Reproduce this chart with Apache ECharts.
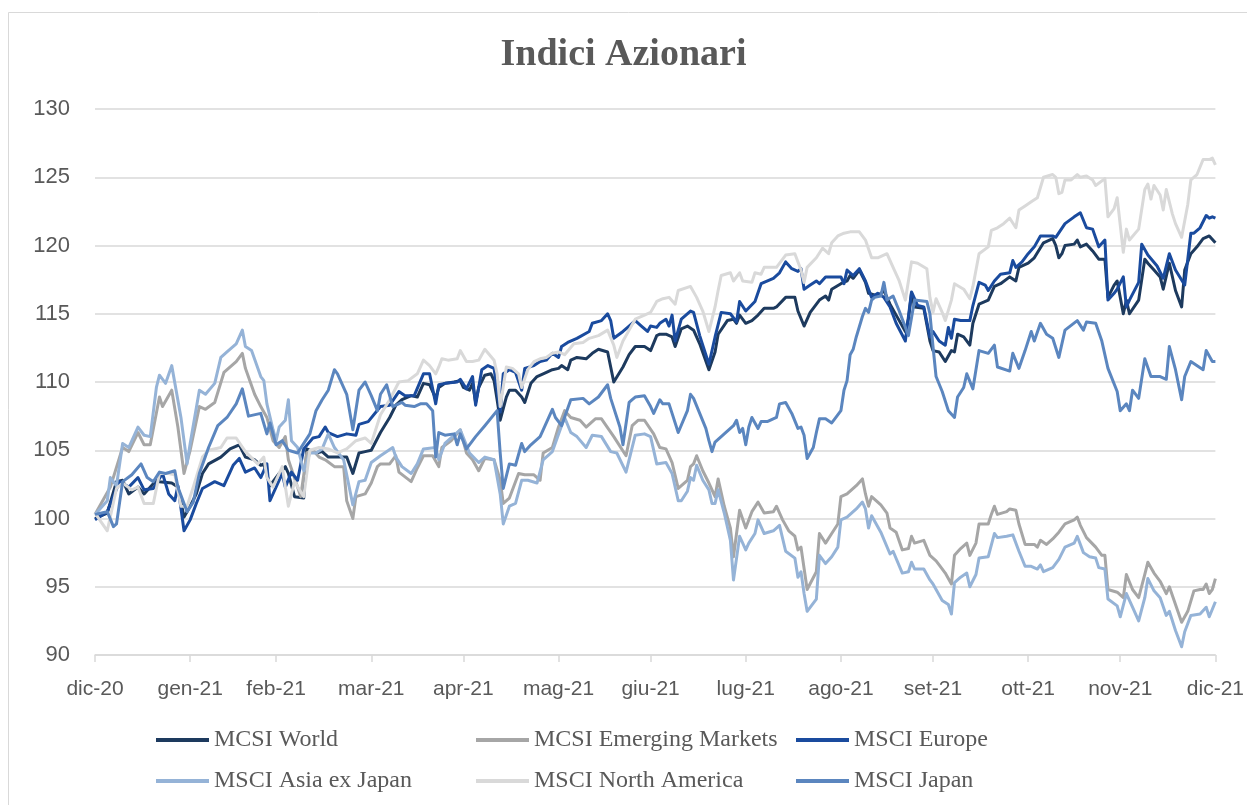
<!DOCTYPE html>
<html><head><meta charset="utf-8">
<script src="https://cdn.jsdelivr.net/npm/echarts@6/dist/echarts.min.js"></script>
<style>html,body{margin:0;padding:0;background:#fff}#c{width:1247px;height:805px}</style>
</head><body><div id="c"></div>
<script>
// Tick labels at month-end dates (days since 2020-12-31)
const monthLabels = ['dic-20','gen-21','feb-21','mar-21','apr-21','mag-21','giu-21','lug-21','ago-21','set-21','ott-21','nov-21','dic-21'];
const monthEndDays = [0,31,59,90,120,151,181,212,243,273,304,334,365];
const yTicks = [90,95,100,105,110,115,120,125,130];

// Series: [days since 2020-12-31, index value]
const world = [[0,100.0],[4,100.4],[7,102.7],[9,102.8],[11,101.8],[14,102.3],[16,101.8],[20,102.8],[21,102.7],[25,102.6],[27,102.3],[29,100.1],[31,100.9],[33,101.8],[35,103.3],[37,104.0],[41,104.5],[44,105.1],[47,105.4],[49,104.5],[52,104.3],[54,103.9],[55,104.0],[57,102.4],[60,103.3],[62,103.8],[63,103.3],[65,101.6],[68,101.5],[69,105.1],[72,104.8],[74,104.9],[76,104.5],[79,104.5],[82,104.5],[84,103.3],[86,104.8],[88,104.9],[90,105.0],[93,106.3],[96,107.4],[98,108.3],[100,108.7],[103,109.0],[105,108.9],[107,109.9],[109,109.8],[111,108.8],[112,109.6],[114,109.9],[117,110.0],[119,110.1],[120,109.6],[122,109.4],[123,109.9],[124,108.5],[125,109.6],[127,110.5],[129,110.6],[130,110.1],[131,108.7],[132,107.2],[134,108.9],[135,109.4],[137,109.4],[139,108.9],[140,108.5],[142,109.9],[144,110.4],[146,110.6],[149,110.9],[151,111.0],[152,111.2],[154,110.9],[155,111.6],[157,111.8],[160,111.7],[162,112.1],[164,112.4],[167,112.2],[168,111.1],[169,110.0],[172,111.1],[174,112.0],[176,112.6],[179,112.6],[181,112.3],[183,113.4],[184,113.5],[186,113.5],[188,113.3],[189,112.6],[191,113.9],[193,114.1],[195,113.8],[197,112.8],[200,110.9],[202,112.2],[203,113.5],[206,114.5],[208,114.6],[209,114.3],[210,114.9],[212,114.3],[214,114.5],[216,114.9],[218,115.4],[221,115.4],[222,115.5],[225,116.2],[228,116.2],[229,115.2],[231,114.1],[233,115.1],[236,116.0],[238,116.3],[239,116.0],[240,116.8],[243,117.2],[245,117.4],[246,117.8],[247,117.6],[249,118.2],[251,117.3],[252,116.5],[255,116.3],[257,116.7],[259,115.7],[261,114.9],[264,113.7],[265,114.6],[266,116.5],[267,115.5],[270,115.4],[272,113.0],[273,112.3],[275,112.2],[277,111.5],[279,112.3],[280,112.2],[281,113.5],[283,113.3],[285,112.7],[286,114.3],[288,115.7],[291,116.0],[293,117.0],[295,117.2],[298,117.7],[300,117.4],[301,118.4],[304,118.7],[306,119.1],[309,120.2],[312,120.5],[313,120.0],[314,119.1],[315,119.4],[316,120.0],[319,120.1],[320,120.4],[321,119.9],[323,120.1],[325,119.6],[327,119.0],[329,119.0],[330,116.2],[332,117.1],[333,117.4],[335,115.0],[336,116.0],[337,115.0],[340,116.0],[342,119.0],[343,118.7],[345,118.2],[347,117.7],[348,116.8],[350,118.7],[352,116.7],[354,115.5],[355,118.2],[357,119.4],[359,119.9],[361,120.5],[363,120.7],[365,120.2]];

const emerging = [[0,100.3],[5,102.3],[9,105.2],[11,104.9],[14,106.3],[16,105.4],[18,105.4],[21,108.9],[22,108.2],[25,109.4],[27,106.7],[29,103.3],[31,105.0],[34,108.2],[36,108.0],[39,108.5],[42,110.7],[46,111.5],[48,112.1],[49,111.0],[52,109.1],[54,108.2],[56,107.4],[58,105.7],[60,105.2],[62,106.0],[63,104.3],[66,102.3],[67,101.6],[69,104.8],[71,105.0],[73,104.5],[75,104.3],[78,103.8],[81,103.8],[82,101.3],[84,100.0],[85,101.6],[88,101.8],[90,102.6],[92,103.8],[93,104.0],[96,104.0],[98,104.6],[99,103.4],[103,102.7],[105,103.7],[107,104.6],[110,104.6],[112,103.8],[113,105.2],[116,105.7],[119,106.5],[121,104.8],[123,104.3],[125,103.5],[127,104.4],[130,104.3],[132,102.8],[133,101.1],[135,101.5],[138,103.3],[140,103.2],[143,103.2],[145,102.8],[146,104.8],[149,105.2],[151,106.7],[153,107.9],[155,107.4],[158,107.2],[160,106.7],[163,107.3],[165,107.3],[169,106.0],[173,104.6],[175,106.8],[177,107.2],[179,107.2],[182,106.2],[184,105.2],[186,105.1],[188,104.1],[190,102.2],[193,102.8],[194,103.8],[195,104.0],[196,104.6],[198,103.5],[200,102.6],[202,101.6],[203,102.9],[205,100.9],[207,99.3],[208,97.2],[210,100.6],[212,99.3],[214,100.5],[216,101.2],[218,100.4],[221,100.5],[222,100.9],[224,99.9],[226,99.1],[228,98.7],[229,97.7],[230,97.9],[232,94.8],[235,96.1],[236,98.9],[238,98.2],[240,98.9],[242,99.6],[243,101.6],[245,101.8],[248,102.4],[250,102.9],[251,101.8],[252,100.9],[253,101.6],[256,101.0],[258,100.4],[259,99.3],[261,99.0],[263,97.7],[265,97.8],[266,98.7],[267,98.2],[270,98.4],[272,97.3],[274,96.9],[275,96.6],[277,96.0],[279,95.2],[280,97.3],[282,97.8],[284,98.2],[285,97.3],[287,98.2],[288,99.6],[291,99.6],[292,100.3],[293,100.9],[294,100.3],[297,100.5],[298,100.7],[300,100.6],[301,99.6],[303,98.1],[306,98.1],[307,97.9],[308,98.4],[310,98.1],[312,98.5],[314,99.0],[316,99.6],[319,99.9],[320,100.1],[321,99.5],[323,98.6],[326,97.9],[328,97.3],[329,97.3],[330,94.8],[333,94.6],[335,94.2],[336,95.9],[338,94.8],[340,94.2],[342,95.9],[343,96.8],[345,96.0],[347,95.4],[349,94.5],[350,95.0],[352,93.7],[354,92.4],[356,93.2],[358,94.7],[360,94.8],[361,94.8],[362,95.2],[363,94.5],[364,94.8],[365,95.6]];

const europe = [[0,99.9],[4,100.5],[8,102.7],[11,102.3],[14,103.0],[16,102.1],[19,102.2],[22,103.3],[24,101.8],[26,101.3],[27,102.4],[29,99.1],[31,99.9],[33,101.1],[35,102.2],[39,102.7],[42,102.4],[45,103.9],[47,104.4],[49,103.4],[52,103.7],[54,103.0],[56,104.0],[57,101.3],[61,103.3],[62,102.3],[64,103.4],[66,102.8],[68,105.1],[71,105.9],[73,106.0],[75,106.7],[76,106.3],[79,106.0],[82,106.2],[85,106.1],[86,106.9],[89,107.1],[93,108.2],[96,108.3],[99,109.3],[101,109.0],[104,109.0],[107,110.6],[109,110.6],[111,108.4],[112,109.8],[114,109.9],[118,110.0],[119,110.2],[121,109.5],[123,110.4],[124,108.3],[126,110.9],[128,111.2],[130,111.0],[132,107.8],[133,110.6],[135,110.9],[137,110.7],[139,109.4],[140,111.0],[143,111.2],[145,111.5],[147,111.6],[149,112.1],[151,111.8],[152,112.6],[154,112.9],[157,113.2],[161,113.7],[162,114.3],[165,114.5],[167,115.0],[168,114.5],[169,113.2],[172,113.7],[174,114.1],[176,114.5],[178,114.1],[180,113.7],[181,114.1],[183,114.0],[184,114.3],[186,114.6],[187,114.1],[188,114.9],[189,113.0],[191,114.6],[194,115.2],[195,115.1],[197,113.4],[200,111.3],[202,113.3],[204,115.1],[207,115.0],[209,114.4],[210,115.9],[212,115.2],[215,115.9],[217,117.2],[221,117.6],[223,118.0],[225,118.8],[227,118.3],[229,118.1],[230,118.3],[231,116.8],[233,117.1],[235,117.4],[236,117.2],[238,117.7],[240,117.7],[243,117.7],[244,117.2],[245,118.2],[247,117.8],[249,118.3],[251,117.4],[253,116.2],[255,116.5],[257,116.2],[259,115.5],[261,114.3],[264,113.0],[266,116.6],[268,115.6],[270,115.5],[272,113.3],[273,113.7],[275,113.0],[277,112.7],[278,114.0],[279,113.2],[280,114.6],[282,114.5],[285,114.5],[286,115.6],[288,117.3],[290,117.1],[291,116.7],[293,117.4],[295,117.9],[298,118.0],[299,118.9],[300,118.4],[302,118.8],[304,119.4],[306,119.9],[308,120.7],[312,120.7],[313,120.6],[316,121.6],[319,122.1],[321,122.4],[323,121.3],[325,121.2],[327,119.9],[329,120.4],[330,116.0],[332,116.5],[333,116.8],[335,117.7],[336,115.5],[337,116.0],[340,117.3],[341,120.1],[343,119.3],[346,118.5],[348,117.6],[350,119.4],[352,118.2],[355,117.1],[357,120.9],[358,120.9],[360,121.3],[362,122.2],[363,122.0],[364,122.1],[365,122.0]];

const asiaExJapan = [[0,100.3],[4,101.3],[5,103.0],[7,102.4],[9,105.5],[11,105.2],[14,106.7],[16,106.1],[18,106.0],[20,109.6],[21,110.5],[23,109.9],[25,111.2],[28,107.4],[30,104.0],[31,105.5],[34,109.4],[36,109.1],[39,109.9],[41,111.8],[43,112.2],[46,112.8],[48,113.8],[49,112.6],[51,112.3],[54,110.4],[55,110.1],[56,108.4],[58,106.5],[59,105.7],[60,106.7],[62,107.2],[63,108.7],[64,105.7],[66,105.2],[68,103.5],[70,104.8],[72,104.8],[74,105.1],[76,106.2],[78,105.2],[81,104.3],[84,101.0],[86,102.7],[88,102.8],[90,104.1],[93,104.6],[97,105.2],[98,104.5],[100,103.8],[103,103.3],[105,104.0],[107,105.1],[111,105.2],[112,104.3],[114,105.5],[117,106.1],[119,106.5],[122,104.8],[125,104.1],[127,104.5],[130,104.3],[132,101.8],[133,99.6],[135,100.9],[137,101.1],[139,102.8],[141,102.8],[144,102.6],[146,104.3],[149,104.9],[152,106.8],[153,107.4],[155,106.3],[157,106.0],[160,105.2],[162,106.1],[165,106.0],[168,104.9],[170,104.8],[173,103.4],[176,106.1],[179,106.2],[181,106.0],[183,104.0],[186,104.1],[188,103.3],[190,101.3],[191,101.3],[193,102.0],[194,103.0],[195,102.8],[196,103.9],[198,102.8],[200,102.1],[201,101.1],[202,101.1],[203,102.1],[205,100.4],[207,98.4],[208,95.5],[210,98.7],[212,97.7],[213,98.2],[215,98.9],[216,99.9],[218,98.9],[221,99.1],[223,99.5],[225,97.6],[228,97.1],[229,95.7],[230,96.1],[231,94.5],[232,93.2],[235,94.1],[236,97.3],[238,96.7],[240,97.2],[242,97.9],[243,99.9],[245,100.1],[248,100.7],[250,101.2],[251,100.7],[252,99.3],[253,100.2],[256,99.0],[259,97.4],[260,97.6],[263,96.0],[265,96.1],[266,96.8],[267,96.3],[270,96.3],[272,95.5],[273,95.2],[275,94.4],[276,94.0],[278,93.7],[279,93.0],[280,95.3],[282,95.7],[284,96.0],[285,95.0],[287,95.9],[288,97.1],[291,97.2],[293,98.9],[294,98.6],[297,98.7],[299,98.8],[301,97.6],[303,96.5],[305,96.5],[307,96.3],[308,96.6],[309,96.1],[312,96.4],[314,97.0],[316,97.9],[319,98.2],[320,98.7],[322,97.5],[324,97.2],[326,97.1],[327,96.4],[329,96.3],[330,94.1],[333,93.6],[334,92.8],[336,94.5],[338,93.5],[340,92.5],[342,94.2],[343,95.6],[345,94.7],[347,94.2],[349,92.9],[350,93.2],[352,91.8],[354,90.6],[355,91.7],[357,92.9],[360,93.0],[362,93.5],[363,92.8],[365,93.9]];

const northAmerica = [[0,100.4],[4,99.1],[7,102.2],[9,102.6],[12,102.1],[14,102.3],[16,101.1],[19,101.1],[21,103.3],[24,103.3],[26,103.2],[28,100.9],[30,100.9],[32,102.3],[35,104.5],[37,105.0],[41,105.2],[43,105.9],[46,105.9],[49,104.9],[53,104.0],[55,104.5],[56,103.0],[58,102.3],[61,103.8],[63,100.9],[65,102.7],[68,101.6],[70,105.0],[73,105.2],[76,105.1],[79,104.8],[82,105.1],[85,105.7],[88,105.9],[90,105.5],[93,107.6],[96,108.7],[99,110.0],[102,110.1],[105,110.6],[107,111.6],[109,111.2],[111,110.6],[112,111.1],[113,111.7],[115,111.6],[118,111.7],[119,112.3],[121,111.5],[123,111.5],[125,111.6],[127,112.4],[130,111.6],[131,110.6],[132,108.2],[134,111.1],[136,111.0],[138,110.6],[139,109.6],[141,110.9],[143,111.5],[145,111.7],[147,111.8],[149,112.1],[151,112.2],[153,112.0],[156,112.8],[159,112.9],[161,113.2],[164,113.4],[167,113.8],[169,112.7],[170,111.8],[172,113.0],[174,113.8],[176,114.6],[179,114.9],[181,115.1],[183,115.9],[185,116.1],[187,116.2],[189,115.7],[190,116.7],[194,117.0],[196,116.2],[198,115.2],[200,113.7],[202,115.5],[203,116.7],[204,117.8],[207,118.0],[208,117.4],[210,118.0],[211,117.4],[214,117.3],[215,118.0],[217,117.9],[218,118.4],[222,118.4],[225,119.3],[228,119.4],[230,118.2],[231,117.3],[232,118.4],[235,119.1],[237,119.8],[239,119.4],[240,120.2],[242,120.7],[244,120.9],[246,121.0],[249,121.0],[251,120.4],[253,119.1],[255,119.1],[258,119.4],[260,118.4],[262,117.4],[264,116.0],[266,118.8],[268,118.7],[271,118.3],[272,116.2],[273,115.1],[274,116.1],[276,115.1],[277,114.5],[279,116.0],[280,117.2],[283,116.8],[285,116.1],[286,117.0],[288,119.4],[291,119.9],[292,121.1],[294,121.3],[296,121.6],[298,122.0],[300,121.3],[301,122.6],[303,122.9],[305,123.2],[307,123.5],[309,125.0],[312,125.2],[313,125.0],[314,123.8],[315,123.9],[316,124.8],[318,124.8],[320,125.2],[321,125.0],[323,125.1],[325,124.8],[326,124.4],[329,124.9],[330,122.1],[332,122.7],[333,123.5],[335,119.5],[336,121.2],[337,120.4],[340,121.2],[342,124.1],[343,124.5],[344,123.4],[345,124.4],[347,123.7],[348,122.6],[349,124.1],[351,122.3],[352,121.6],[354,120.6],[356,123.0],[357,124.8],[359,125.2],[361,126.3],[363,126.3],[364,126.4],[365,125.9]];

const japan = [[0,100.3],[4,100.5],[6,99.4],[7,99.6],[9,102.7],[12,103.2],[15,104.0],[17,103.0],[19,102.7],[21,103.4],[23,103.3],[26,103.5],[27,102.3],[30,100.5],[32,101.2],[34,103.3],[37,105.2],[40,106.8],[43,107.4],[46,108.4],[48,109.5],[50,107.5],[54,107.7],[56,106.2],[57,107.0],[59,105.4],[61,105.7],[63,105.0],[66,104.8],[68,105.5],[70,106.2],[72,107.9],[74,108.7],[76,109.4],[78,110.9],[79,110.6],[82,109.1],[84,106.5],[86,109.4],[88,110.0],[90,109.0],[92,107.9],[93,109.1],[95,109.8],[97,108.2],[100,108.5],[101,108.3],[104,108.2],[106,108.4],[108,108.4],[110,107.9],[111,104.5],[112,106.3],[114,106.1],[117,106.2],[118,105.4],[119,106.2],[121,105.1],[124,106.0],[127,106.8],[131,107.9],[132,104.8],[133,102.2],[135,104.0],[137,103.9],[139,105.5],[140,104.9],[142,105.4],[145,106.0],[146,106.5],[149,108.0],[150,107.4],[152,106.8],[155,108.7],[159,108.8],[161,108.4],[164,108.9],[167,109.8],[168,108.8],[171,106.7],[172,105.4],[174,108.5],[175,108.7],[176,108.9],[179,109.0],[181,108.2],[182,107.7],[184,108.7],[185,108.4],[187,108.4],[188,107.7],[190,106.3],[193,107.9],[194,109.1],[195,108.8],[197,107.7],[199,106.6],[200,105.7],[201,104.9],[202,105.6],[205,106.2],[208,106.8],[209,107.2],[210,106.3],[211,106.6],[212,105.4],[213,106.7],[214,107.4],[216,106.6],[217,107.1],[219,107.1],[222,107.4],[223,108.4],[225,108.5],[227,107.7],[229,106.6],[230,106.7],[231,106.1],[232,104.4],[234,105.2],[235,106.3],[236,107.3],[238,107.3],[240,107.0],[241,107.3],[243,107.9],[244,109.4],[245,110.1],[246,112.0],[247,112.4],[248,113.3],[250,114.8],[251,115.4],[252,115.1],[253,116.0],[254,116.2],[256,116.3],[257,117.3],[258,116.0],[260,116.3],[262,115.2],[264,114.0],[265,113.4],[267,116.0],[271,115.9],[272,115.0],[273,112.6],[274,110.4],[276,109.3],[278,107.9],[280,107.4],[281,108.9],[283,109.6],[284,110.6],[286,109.5],[288,112.3],[291,112.1],[293,112.7],[294,111.1],[298,110.8],[299,112.1],[301,111.0],[303,112.3],[305,113.7],[306,113.0],[308,114.3],[310,113.5],[312,113.2],[314,111.8],[316,113.8],[320,114.5],[322,113.8],[323,114.4],[326,114.3],[328,113.0],[330,111.0],[333,109.3],[334,107.9],[336,108.4],[337,107.9],[338,109.4],[340,108.8],[342,111.7],[344,110.4],[347,110.4],[349,110.2],[350,112.6],[352,110.9],[354,108.7],[355,110.4],[357,111.5],[361,110.9],[362,112.3],[364,111.5],[365,111.5]];

const seriesNames = ['MCSI World','MCSI Emerging Markets','MSCI Europe','MSCI Asia ex Japan','MSCI North America','MSCI Japan'];
const seriesColors = ['#1d3a5e','#a6a6a6','#1a4b9e','#95b3d7','#d9d9d9','#5b86bf'];
const seriesData = [world, emerging, europe, asiaExJapan, northAmerica, japan];

const chart = echarts.init(document.getElementById('c'));
const legendFont = {fontFamily:'"Liberation Serif","Times New Roman",serif',fontSize:24,color:'#595959',lineHeight:24};
function legendCol(names,left){
  return {orient:'vertical',left:left,top:728,padding:0,itemWidth:53,itemHeight:4,icon:'rect',itemGap:17,
    data:names,textStyle:legendFont,selectedMode:false};
}
const axisFont = '"Liberation Sans","Arial",sans-serif';
chart.setOption({
  animation:false,
  backgroundColor:'#ffffff',
  graphic:[{type:'rect',shape:{x:8.5,y:12.5,width:1300,height:900},style:{fill:'none',stroke:'#d9d9d9',lineWidth:1},silent:true,z:-1}],
  title:{text:'Indici Azionari',left:'center',top:31,
    textStyle:{fontFamily:'"Liberation Serif","Times New Roman",serif',fontWeight:'bold',fontSize:38,color:'#595959'}},
  legend:[legendCol([seriesNames[0],seriesNames[3]],156),legendCol([seriesNames[1],seriesNames[4]],476),legendCol([seriesNames[2],seriesNames[5]],796)],
  grid:{left:95,right:30,top:109,bottom:150,containLabel:false},
  xAxis:{type:'value',min:monthEndDays[0],max:monthEndDays[monthEndDays.length-1],
    axisLine:{lineStyle:{color:'#d9d9d9',width:1.5}},
    axisTick:{show:true,length:7,lineStyle:{color:'#d9d9d9',width:1.5},customValues:monthEndDays},
    splitLine:{show:false},
    axisLabel:{customValues:monthEndDays,margin:24,color:'#595959',fontSize:21,fontFamily:axisFont,
      formatter:function(v){const i=monthEndDays.indexOf(Math.round(v));return i>=0?monthLabels[i]:'';}}
  },
  yAxis:{type:'value',min:yTicks[0],max:yTicks[yTicks.length-1],interval:5,
    axisLine:{show:false},axisTick:{show:false},
    splitLine:{lineStyle:{color:'#d9d9d9',width:1.5}},
    axisLabel:{margin:25,color:'#595959',fontSize:22,fontFamily:axisFont}},
  series:seriesData.map((arr,i)=>({name:seriesNames[i],type:'line',symbol:'none',showSymbol:false,
    color:seriesColors[i],lineStyle:{width:3,color:seriesColors[i],join:'round'},
    data:arr,z:2+i}))
});
</script></body></html>
